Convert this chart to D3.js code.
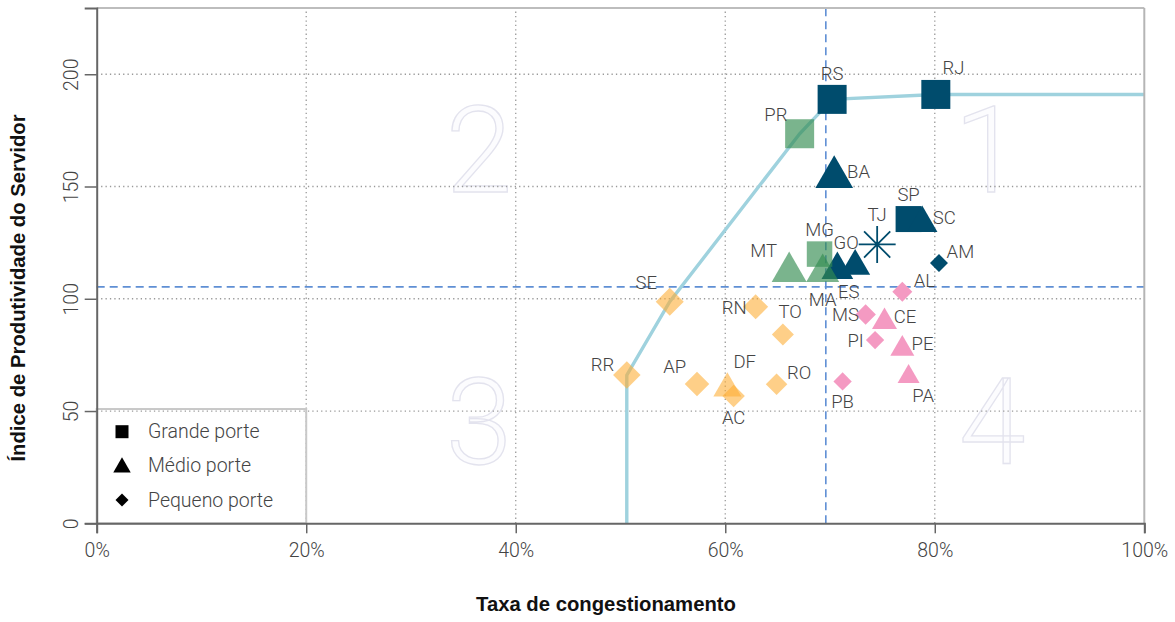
<!DOCTYPE html>
<html>
<head>
<meta charset="utf-8">
<script src="https://cdn.jsdelivr.net/npm/d3@7"></script>
<style>
  html, body { margin: 0; padding: 0; background: #fff; }
  svg { display: block; }
  .lbl { font-family: Roboto, "Roboto Light", "Open Sans", sans-serif; font-weight: 300; fill: #444; }
  .ttl { font-family: "Liberation Sans", Arial, sans-serif; font-weight: 700; fill: #111; }
</style>
</head>
<body>
<svg id="chart" width="1175" height="622"></svg>
<script>
// ---------------- DATA ----------------
const estados = ["RJ","RS","PR","BA","SP","SC","TJ","AM","MG","GO","MT","MA","ES","AL",
                 "SE","RN","TO","RR","AP","DF","AC","RO","MS","CE","PI","PE","PA","PB"];
const taxaCongestionamento = [0.801,0.702,0.671,0.704,0.775,0.788,0.745,0.804,0.690,0.707,0.661,0.693,0.724,0.769,
                              0.547,0.629,0.655,0.506,0.573,0.602,0.608,0.649,0.734,0.752,0.743,0.769,0.775,0.712];
const indiceProdutividade = [191.0,188.8,173.5,154.2,135.5,133.7,124.2,115.9,119.9,112.9,112.0,111.7,114.5,103.1,
                             98.7,96.4,84.1,66.0,62.0,60.1,56.7,61.9,93.0,89.7,81.6,77.7,65.3,63.2];
const porte = ["Grande","Grande","Grande","Médio","Grande","Médio","Total","Pequeno","Grande","Médio","Médio","Médio","Médio","Pequeno",
               "Pequeno","Pequeno","Pequeno","Pequeno","Pequeno","Médio","Pequeno","Pequeno","Pequeno","Médio","Pequeno","Médio","Médio","Pequeno"];
const fronteira = ["RR","SE","PR","RS","RJ"];
const mediaTaxa = 0.696;
const mediaIndice = 105.3;
const xTicks = [0, 0.2, 0.4, 0.6, 0.8, 1.0];
const yTicks = [0, 50, 100, 150, 200];
const legendaRotulos = ["Grande porte", "Médio porte", "Pequeno porte"];
const legendaPortes = ["Grande", "Médio", "Pequeno"];
const quadrantes = ["1", "2", "3", "4"];
const quadrantesX = [0.85, 0.365, 0.365, 0.855];
const quadrantesY = [166, 166, 44.5, 44.5];
const eixoX = "Taxa de congestionamento";
const eixoY = "Índice de Produtividade do Servidor";

// ---------------- STYLE ----------------
// marker size (px) per state, as drawn in the reference
const markerPx = {RJ:29,RS:29,PR:29,BA:37.7,SP:26,SC:30.5,TJ:37,AM:18,MG:25.5,GO:31.7,MT:35,MA:33,ES:30,AL:20,
                  SE:28,RN:25,TO:22,RR:27.5,AP:24.5,DF:28,AC:22.5,RO:21.5,MS:20.5,CE:25,PI:18.3,PE:24,PA:22,PB:18.3};
// label placement code (like R's pos)
const labelPos = {RJ:"ne",RS:"n",PR:"nw",BA:"e",SP:"n",SC:"e",TJ:"n",AM:"en",MG:"n",GO:"nne",MT:"nw",MA:"s",ES:"ssw",AL:"en",
                  SE:"nw",RN:"w",TO:"nne",RR:"wn",AP:"nw",DF:"ne",AC:"s",RO:"en",MS:"w",CE:"e",PI:"w",PE:"e",PA:"se",PB:"s"};
const colBlue = "#004c6d", colGreen = "rgba(50,140,80,0.65)", colOrange = "rgba(253,172,50,0.58)", colPink = "#f49ac2";

// ---------------- CHART ----------------
const svg = d3.select("#chart");
const X0 = 96.7, X1 = 1144.3, Y0 = 523.3, Y1 = 8;
const x = d3.scaleLinear().domain([0, 1]).range([X0, X1]);
const y = d3.scaleLinear().domain([0, 229.5]).range([Y0, Y1]);

const data = estados.map((e, i) => ({
  uf: e, tx: taxaCongestionamento[i], ips: indiceProdutividade[i], porte: porte[i]
}));
function colorOf(d) {
  if (d.ips >= mediaIndice) return d.tx >= mediaTaxa ? colBlue : colGreen;
  return d.tx >= mediaTaxa ? colPink : colOrange;
}

// quadrant numerals
svg.append("g").selectAll("text").data(quadrantes).join("text")
  .attr("x", (d, i) => x(quadrantesX[i]))
  .attr("y", (d, i) => y(quadrantesY[i]))
  .attr("text-anchor", "middle").attr("dominant-baseline", "central")
  .style("font-family", "Roboto, sans-serif").style("font-weight", 300)
  .style("font-size", "120px")
  .attr("fill", "#fcfcfe").attr("stroke", "#e3e3ee").attr("stroke-width", 1.3)
  .text(d => d);

// gridlines
const grid = svg.append("g").attr("stroke", "#9a9a9a").attr("stroke-width", 1.3).attr("stroke-dasharray", "1.3,3.1");
grid.selectAll("line.gx").data(xTicks.filter(v => v > 0 && v < 1)).join("line")
  .attr("x1", d => x(d)).attr("x2", d => x(d)).attr("y1", Y0).attr("y2", Y1);
grid.selectAll("line.gy").data(yTicks.filter(v => v > 0)).join("line")
  .attr("y1", d => y(d)).attr("y2", d => y(d)).attr("x1", X0).attr("x2", X1);

// legend box
svg.append("rect").attr("x", X0).attr("y", y(50) - 2).attr("width", x(0.2) - X0).attr("height", Y0 - y(50) + 2)
  .attr("fill", "none").attr("stroke", "#c8c8c8").attr("stroke-width", 2);

// reference (mean) lines
const ref = svg.append("g").attr("stroke", "#5f8fd4").attr("stroke-width", 1.6).attr("stroke-dasharray", "8,5");
ref.append("line").attr("x1", X0).attr("x2", X1).attr("y1", y(mediaIndice)).attr("y2", y(mediaIndice));
ref.append("line").attr("x1", x(mediaTaxa)).attr("x2", x(mediaTaxa)).attr("y1", Y0).attr("y2", Y1);

// frontier
const fr = fronteira.map(u => data.find(d => d.uf === u));
const frPts = [[fr[0].tx, 0], ...fr.map(d => [d.tx, d.ips]), [1, fr[fr.length - 1].ips]];
svg.append("path")
  .attr("d", d3.line().x(d => x(d[0])).y(d => y(d[1]))(frPts))
  .attr("fill", "none").attr("stroke", "#9fd2de").attr("stroke-width", 3.4);

// frame
svg.append("line").attr("x1", X0).attr("x2", X1).attr("y1", Y1).attr("y2", Y1).attr("stroke", "#bdbdbd").attr("stroke-width", 2);
svg.append("line").attr("x1", X1).attr("x2", X1).attr("y1", Y1).attr("y2", Y0).attr("stroke", "#b5b5b5").attr("stroke-width", 2);

// axes
const gx = svg.append("g").attr("transform", `translate(0,${Y0})`)
  .call(d3.axisBottom(x).tickValues(xTicks).tickFormat(d3.format(".0%")).tickSize(10).tickPadding(10));
const gy = svg.append("g").attr("transform", `translate(${X0},0)`)
  .call(d3.axisLeft(y).tickValues(yTicks).tickSize(12));
[gx, gy].forEach(g => {
  g.select(".domain").attr("stroke", "#666").attr("stroke-width", 2);
  g.selectAll(".tick line").attr("stroke", "#666").attr("stroke-width", 1.5);
  g.selectAll(".tick text").attr("class", "lbl").style("font-size", "19.5px").attr("fill", "#555");
});
gy.selectAll(".tick text").attr("x", 0).attr("dy", null).attr("y", 0)
  .attr("text-anchor", "middle").attr("dominant-baseline", "central")
  .attr("transform", "translate(-25.5,0) rotate(-90)");

// marker shapes
function shapePath(kind, s) {
  if (kind === "Grande") { const h = s / 2; return `M${-h},${-h}H${h}V${h}H${-h}Z`; }
  if (kind === "Médio") { const h = s * 0.866; return `M0,${-2 * h / 3}L${s / 2},${h / 3}L${-s / 2},${h / 3}Z`; }
  if (kind === "Pequeno") { const h = s / 2; return `M0,${-h}L${h},0L0,${h}L${-h},0Z`; }
  // asterisk
  const r = s / 2, q = r * 0.7071;
  return `M${-r},0H${r}M0,${-r}V${r}M${-q},${-q}L${q},${q}M${-q},${q}L${q},${-q}`;
}

// draw order: blue, green, orange, pink
const orderCol = [colBlue, colGreen, colOrange, colPink];
const drawData = data.slice().sort((a, b) => orderCol.indexOf(colorOf(a)) - orderCol.indexOf(colorOf(b)));
const pts = svg.append("g");
pts.selectAll("path").data(drawData).join("path")
  .attr("transform", d => `translate(${x(d.tx)},${y(d.ips)})`)
  .attr("d", d => shapePath(d.porte, markerPx[d.uf]))
  .attr("fill", d => d.porte === "Total" ? "none" : colorOf(d))
  .attr("stroke", d => d.porte === "Total" ? colBlue : "none")
  .attr("stroke-width", 1.8);

// labels
function labelXY(d) {
  const r = markerPx[d.uf] / 2, px = x(d.tx), py = y(d.ips);
  switch (labelPos[d.uf]) {
    case "n":   return [px, py - r - 11];
    case "nne": return [px + 0.3 * r + 4, py - r - 11];
    case "s":   return [px, py + r + 11];
    case "ssw": return [px - 0.3 * r - 2, py + r + 11];
    case "e":   return [px + 0.6 * r + 13, py - 5];
    case "w":   return [px - 0.6 * r - 14, py + 1];
    case "ne":  return [px + 0.6 * r + 9, py - r - 12];
    case "nw":  return [px - 0.6 * r - 15, py - 0.6 * r - 10];
    case "en":  return [px + 0.6 * r + 16, py - 0.4 * r - 7];
    case "wn":  return [px - 0.6 * r - 16, py - 0.4 * r - 5];
    case "se":  return [px + 0.6 * r + 8, py + r + 8];
  }
  return [px, py];
}
svg.append("g").selectAll("text").data(data).join("text")
  .attr("class", "lbl").style("font-size", "18.5px")
  .attr("x", d => labelXY(d)[0]).attr("y", d => labelXY(d)[1])
  .attr("text-anchor", "middle").attr("dominant-baseline", "central")
  .text(d => d.uf);

// legend
const lg = svg.append("g");
legendaRotulos.forEach((t, i) => {
  const ly = 431.7 + i * 34.2;
  const s = legendaPortes[i] === "Grande" ? 13 : legendaPortes[i] === "Médio" ? 17.5 : 13;
  lg.append("path").attr("transform", `translate(122,${ly + (legendaPortes[i] === "Médio" ? 1.5 : 0)})`)
    .attr("d", shapePath(legendaPortes[i], s)).attr("fill", "#000");
  lg.append("text").attr("class", "lbl").style("font-size", "19.5px")
    .attr("x", 148).attr("y", ly).attr("dominant-baseline", "central").text(t);
});

// axis titles
svg.append("text").attr("class", "ttl").style("font-size", "20.3px")
  .attr("x", 606).attr("y", 611).attr("text-anchor", "middle").text(eixoX);
svg.append("text").attr("class", "ttl").style("font-size", "20.3px")
  .attr("transform", "translate(25,288) rotate(-90)").attr("text-anchor", "middle").text(eixoY);
</script>
</body>
</html>
